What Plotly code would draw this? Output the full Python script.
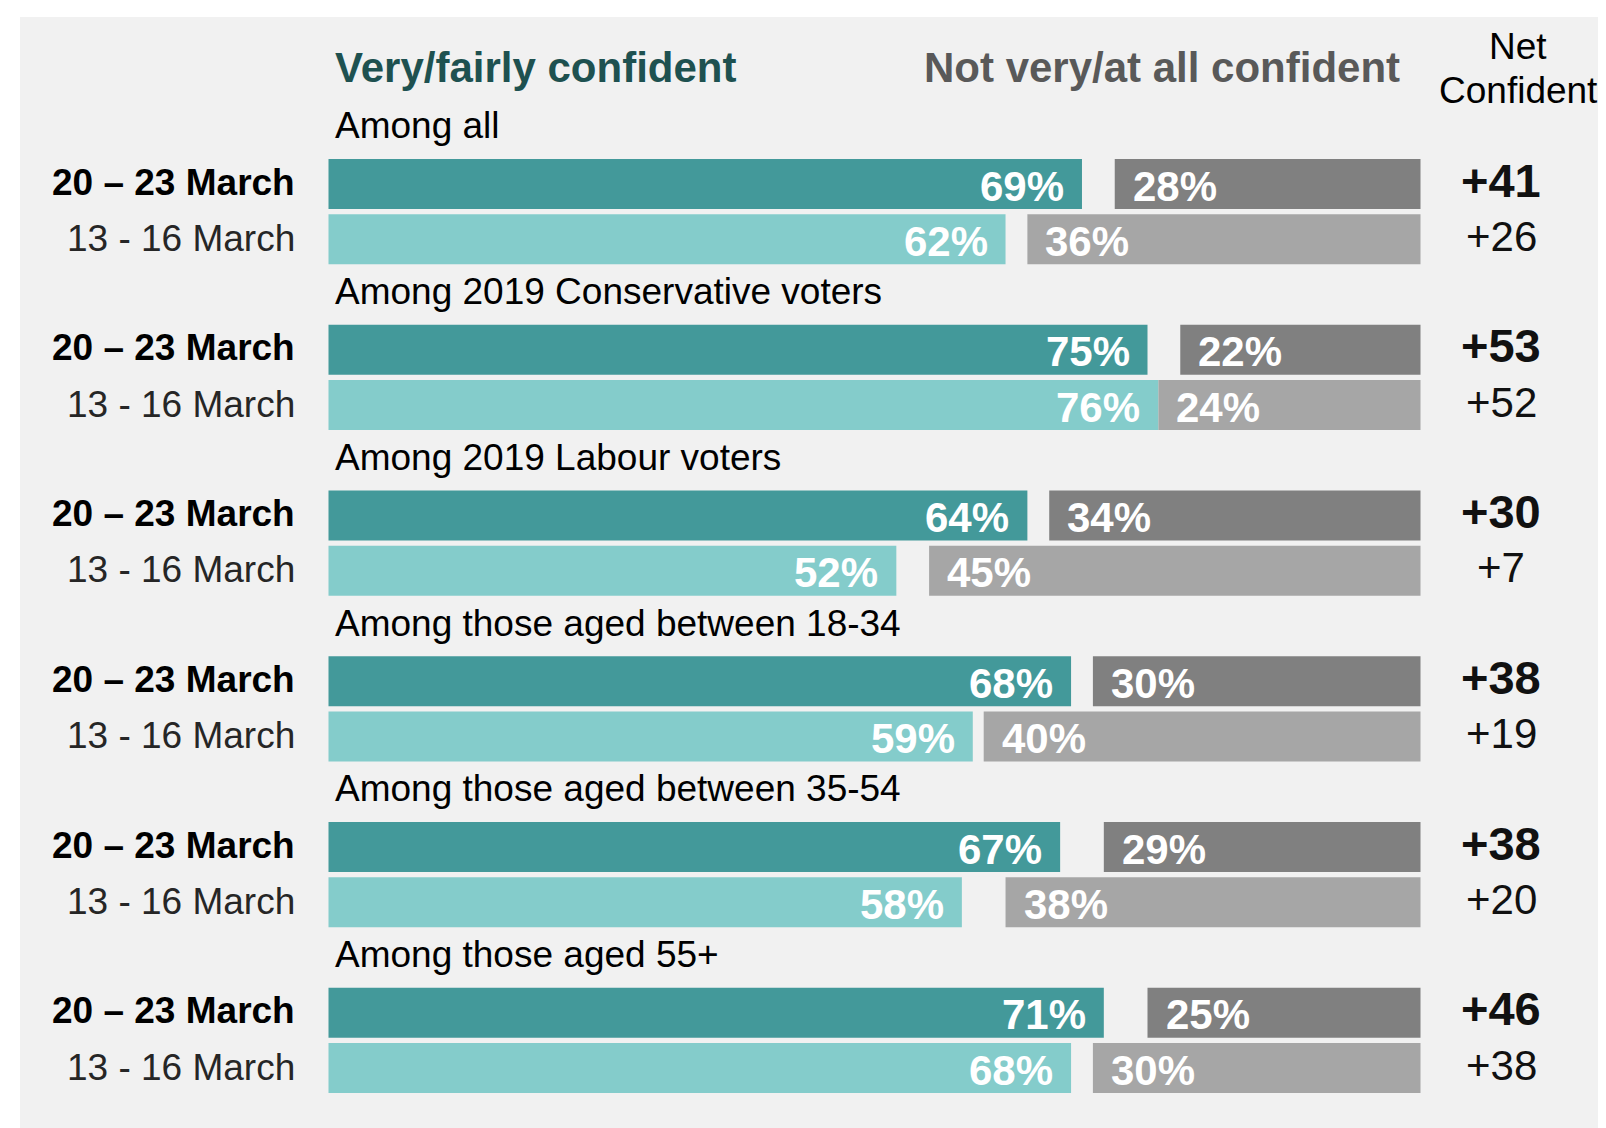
import plotly.graph_objects as go

groups = ["Among all", "Among 2019 Conservative voters", "Among 2019 Labour voters",
          "Among those aged between 18-34", "Among those aged between 35-54", "Among those aged 55+"]
period_recent = "20 – 23 March"
period_prev = "13 - 16 March"
conf_recent = [69, 75, 64, 68, 67, 71]
conf_prev = [62, 76, 52, 59, 58, 68]
notconf_recent = [28, 22, 34, 30, 29, 25]
notconf_prev = [36, 24, 45, 40, 38, 30]
net_recent = [41, 53, 30, 38, 38, 46]
net_prev = [26, 52, 7, 19, 20, 38]

W, H = 1606, 1128
FONT = "Liberation Sans, Arial, sans-serif"

C_DARK = "#43999a"
C_LIGHT = "#84cccb"
G_DARK = "#808080"
G_LIGHT = "#a6a6a6"

y_recent = [3 * i + 1 for i in range(len(groups))]
y_prev = [3 * i + 2 for i in range(len(groups))]
y_head = [3 * i for i in range(len(groups))]
BW = 0.905

fig = go.Figure()
fig.add_trace(go.Bar(y=y_recent, x=conf_recent, base=0, orientation="h", width=BW,
                     marker=dict(color=C_DARK, line=dict(width=0)), hoverinfo="skip"))
fig.add_trace(go.Bar(y=y_prev, x=conf_prev, base=0, orientation="h", width=BW,
                     marker=dict(color=C_LIGHT, line=dict(width=0)), hoverinfo="skip"))
fig.add_trace(go.Bar(y=y_recent, x=notconf_recent, base=[100 - v for v in notconf_recent],
                     orientation="h", width=BW,
                     marker=dict(color=G_DARK, line=dict(width=0)), hoverinfo="skip"))
fig.add_trace(go.Bar(y=y_prev, x=notconf_prev, base=[100 - v for v in notconf_prev],
                     orientation="h", width=BW,
                     marker=dict(color=G_LIGHT, line=dict(width=0)), hoverinfo="skip"))

ann = []
PCT_FONT = dict(family=FONT, size=42, color="white")
for i in range(len(groups)):
    for yy, c, n, nv, bold in [(y_recent[i], conf_recent[i], notconf_recent[i], net_recent[i], True),
                               (y_prev[i], conf_prev[i], notconf_prev[i], net_prev[i], False)]:
        ann.append(dict(x=c, y=yy, xref="x", yref="y", text=f"<b>{c}%</b>", showarrow=False,
                        xanchor="right", yanchor="middle", xshift=-16, yshift=-2, font=PCT_FONT))
        ann.append(dict(x=100 - n, y=yy, xref="x", yref="y", text=f"<b>{n}%</b>", showarrow=False,
                        xanchor="left", yanchor="middle", xshift=16, yshift=-2, font=PCT_FONT))
        lab = f"<b>{period_recent}</b>" if bold else period_prev
        ann.append(dict(x=0, y=yy, xref="x", yref="y", text=lab, showarrow=False,
                        xanchor="right", yanchor="middle", xshift=-32, yshift=2 if bold else 1,
                        font=dict(family=FONT, size=37, color="#000000" if bold else "#262626")))
        ntxt = f"<b>+{nv}</b>" if bold else f"+{nv}"
        ann.append(dict(x=1493 / W, y=yy, xref="paper", yref="y", text=ntxt, showarrow=False,
                        xanchor="center", yanchor="middle", yshift=4 if bold else 3,
                        font=dict(family=FONT, size=47 if bold else 42, color="#111111")))
    ann.append(dict(x=0, y=y_head[i], xref="x", yref="y", text=groups[i], showarrow=False,
                    xanchor="left", yanchor="middle", xshift=4, yshift=3,
                    font=dict(family=FONT, size=37, color="#000000")))

ann.append(dict(x=325 / W, y=1 - 59 / H, xref="paper", yref="paper", text="<b>Very/fairly confident</b>",
                showarrow=False, xanchor="left", yanchor="middle",
                font=dict(family=FONT, size=42, color="#1e5150")))
ann.append(dict(x=1394 / W, y=1 - 59 / H, xref="paper", yref="paper", text="<b>Not very/at all confident</b>",
                showarrow=False, xanchor="right", yanchor="middle",
                font=dict(family=FONT, size=42, color="#595959")))
ann.append(dict(x=1510 / W, y=1 - 39 / H, xref="paper", yref="paper", text="Net",
                showarrow=False, xanchor="center", yanchor="middle",
                font=dict(family=FONT, size=37, color="#000000")))
ann.append(dict(x=1510 / W, y=1 - 83 / H, xref="paper", yref="paper", text="Confident",
                showarrow=False, xanchor="center", yanchor="middle",
                font=dict(family=FONT, size=37, color="#000000")))

x0px, x100px = 320.5, 1412.5
ppu = (x100px - x0px) / 100
s0, pitch = 120.75, 55.25

fig.update_layout(
    width=W, height=H,
    margin=dict(l=0, r=0, t=0, b=0),
    paper_bgcolor="white",
    plot_bgcolor="rgba(0,0,0,0)",
    barmode="overlay",
    showlegend=False,
    xaxis=dict(range=[-x0px / ppu, (W - x0px) / ppu], visible=False, fixedrange=True),
    yaxis=dict(range=[(H - s0) / pitch, -s0 / pitch], visible=False, fixedrange=True),
    annotations=ann,
    shapes=[dict(type="rect", xref="paper", yref="paper", x0=12 / W, x1=1, y0=0, y1=1 - 9 / H,
                 fillcolor="#f1f1f1", line=dict(width=0), layer="below")],
)

fig.write_html("out.html")
